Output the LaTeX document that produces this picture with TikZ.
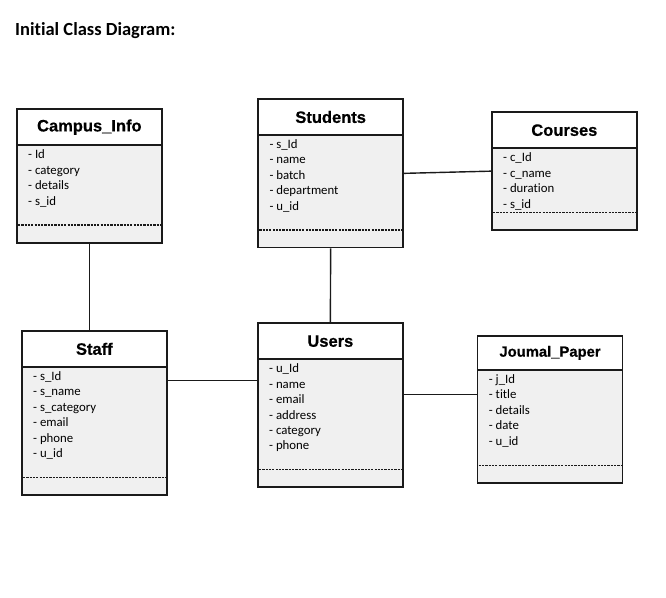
\documentclass[tikz,border=0pt]{standalone}
\usepackage{fontspec}
\setmainfont{Carlito}[Ligatures={NoCommon}]
\newfontfamily\headfont{Liberation Sans}[BoldFeatures={FakeBold=0.6}]
\usetikzlibrary{calc}
\definecolor{bodygray}{HTML}{F0F0F0}
\definecolor{edgecol}{HTML}{1A1A1A}
\tikzset{
  classbody/.style={draw=edgecol, line width=1.7pt, fill=bodygray, inner sep=0pt, minimum width=145pt},
  classhead/.style={draw=edgecol, line width=1.7pt, fill=white, inner sep=0pt, minimum width=145pt,
    font=\headfont\bfseries\fontsize{16.5}{19}\selectfont},
  attrtext/.style={inner sep=0pt, font=\fontsize{12.8}{15}\selectfont},
  sepline/.style={line width=1.2pt, dash pattern=on 2.2pt off 1.1pt, draw=edgecol},
  link/.style={line width=1.4pt, draw=edgecol},
  titletext/.style={inner sep=0pt, font=\bfseries\fontsize{18.5}{21}\selectfont}
}
% #1 name, #2 left, #3 top, #4 header height, #5 total height, #6 dashed line offset, #7 title, #8 attributes
\newcommand{\umlclass}[8]{%
  \node[classbody, minimum height=#5pt, anchor=north west] (#1) at (#2,#3) {};
  \node[classhead, minimum height=#4pt, anchor=north west] (#1-head) at (#2,#3) {#7};
  \foreach \t [count=\i] in {#8} {%
    \node[attrtext, anchor=base west] (#1-a\i) at ({#2+12},{#3+#4+14.5+(\i-1)*15.4}) {\t};
  }
  \draw[sepline] ([xshift=2pt,yshift=-#6pt]#1.north west) -- ([xshift=-2pt,yshift=-#6pt]#1.north east);
}
\begin{document}
\begin{tikzpicture}[x=1pt,y=-1pt]
\useasboundingbox[fill=white] (0,0) rectangle (666,597);
\node[titletext, anchor=base west] (title) at (15,35) {Initial Class Diagram:};

\umlclass{campus}{16}{108.3}{36}{133.7}{116.7}{Campus\_Info}{- Id, - category, - details, - s\_id}
\umlclass{students}{257.3}{98.3}{35.7}{148.4}{131.7}{Students}{- s\_Id, - name, - batch, - department, - u\_id}
\umlclass{courses}{491}{111.3}{36}{118}{101.4}{Courses}{- c\_Id, - c\_name, - duration, - s\_id}
\umlclass{staff}{21}{330}{36}{164}{147.3}{Staff}{- s\_Id, - s\_name, - s\_category, - email, - phone, - u\_id}
\umlclass{users}{257}{322.3}{36}{163.7}{147}{Users}{- u\_Id, - name, - email, - address, - category, - phone}
\umlclass{journal}{476.7}{335}{34}{147.3}{130.7}{{\fontsize{14.8}{17}\selectfont Joumal\_Paper}}{- j\_Id, - title, - details, - date, - u\_id}

\draw[link] (campus.south) -- (campus.south |- staff.north);
\draw[link] (students.south) -- (users.north);
\draw[link] (students.east) -- (courses.west);
\coordinate (su) at ([yshift=-50.7pt]staff.north east);
\draw[link] (su) -- (su -| users.west);
\coordinate (uj) at ([yshift=-72pt]users.north east);
\draw[link] (uj) -- (uj -| journal.west);
\end{tikzpicture}
\end{document}
